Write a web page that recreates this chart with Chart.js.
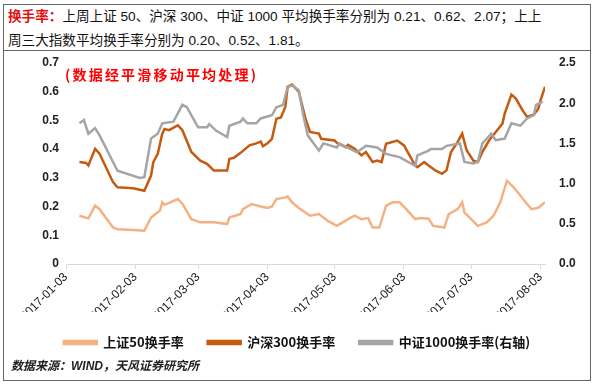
<!DOCTYPE html>
<html>
<head>
<meta charset="utf-8">
<script src="https://cdn.jsdelivr.net/npm/chart.js@4/dist/chart.umd.min.js"></script>
<style>
    body { margin: 0; background: #fff; font-family: "Liberation Sans", "Noto Sans CJK SC", sans-serif; }
    #wrap { position: relative; width: 600px; height: 386px; }
    #frame { position: absolute; left: 3px; top: 4px; width: 586px; height: 375px; border: 1px solid #666; }
    #sep { position: absolute; left: 3px; top: 50px; width: 588px; height: 0; border-top: 1px solid #666; }
    #head { position: absolute; left: 8px; top: 5px; font-size: 13.6px; line-height: 24px; color: #111; white-space: nowrap; }
    #head b { color: #e01010; }
    #note { position: absolute; left: 65px; top: 64px; font-size: 14px; letter-spacing: 2.2px; font-weight: bold; color: #ff0000; font-family: "Noto Sans CJK SC", sans-serif; }
    #src { position: absolute; left: 11px; top: 356px; font-size: 12px; font-weight: bold; font-style: italic; color: #222; }
    #box { position: absolute; left: 4px; top: 51px; width: 586px; height: 310px; }
</style>
</head>
<body>
<div id="wrap">
    <div id="frame"></div>
    <div id="sep"></div>
    <div id="head"><b>换手率：</b>上周上证 50、沪深 300、中证 1000 平均换手率分别为 0.21、0.62、2.07；上上<br>周三大指数平均换手率分别为 0.20、0.52、1.81。</div>
    <div id="box"><canvas id="turnoverChart"></canvas></div>
    <div id="note">(数据经平滑移动平均处理)</div>
    <div id="src">数据来源：WIND，天风证券研究所</div>
</div>
<script>
const startDate = '2017-01-03';
const tickLabels = ['2017-01-03', '2017-02-03', '2017-03-03', '2017-04-03', '2017-05-03', '2017-06-03', '2017-07-03', '2017-08-03'];
const seriesNames = ['上证50换手率', '沪深300换手率', '中证1000换手率(右轴)'];

// 上证50 (left axis)
const sz50Dates = ['2017-01-09', '2017-01-13', '2017-01-16', '2017-01-18', '2017-01-24', '2017-01-26', '2017-02-02', '2017-02-07',
    '2017-02-10', '2017-02-14', '2017-02-15', '2017-02-16', '2017-02-22', '2017-02-24', '2017-02-28', '2017-03-04', '2017-03-10',
    '2017-03-16', '2017-03-17', '2017-03-22', '2017-03-23', '2017-03-27', '2017-03-31', '2017-04-03', '2017-04-05', '2017-04-07',
    '2017-04-11', '2017-04-12', '2017-04-14', '2017-04-17', '2017-04-22', '2017-04-26', '2017-04-30', '2017-05-04', '2017-05-09',
    '2017-05-12', '2017-05-15', '2017-05-18', '2017-05-20', '2017-05-23', '2017-05-26', '2017-05-29', '2017-06-01', '2017-06-04',
    '2017-06-08', '2017-06-10', '2017-06-14', '2017-06-16', '2017-06-21', '2017-06-23', '2017-06-27', '2017-06-29', '2017-06-30',
    '2017-07-06', '2017-07-10', '2017-07-13', '2017-07-16', '2017-07-19', '2017-07-22', '2017-07-28', '2017-07-30', '2017-08-02', '2017-08-05'];
const sz50Values = [0.168, 0.159, 0.203, 0.191, 0.127, 0.121, 0.118, 0.116,
    0.162, 0.186, 0.215, 0.206, 0.226, 0.21, 0.156, 0.145, 0.145,
    0.139, 0.162, 0.174, 0.191, 0.209, 0.20, 0.195, 0.20, 0.226,
    0.232, 0.235, 0.215, 0.195, 0.168, 0.174, 0.15, 0.133, 0.156,
    0.168, 0.156, 0.16, 0.127, 0.127, 0.203, 0.215, 0.215, 0.191,
    0.156, 0.16, 0.158, 0.133, 0.127, 0.174, 0.191, 0.215, 0.18,
    0.133, 0.145, 0.168, 0.215, 0.29, 0.267, 0.209, 0.191, 0.196, 0.215];

// 沪深300 (left axis)
const hs300Dates = ['2017-01-09', '2017-01-12', '2017-01-13', '2017-01-16', '2017-01-18', '2017-01-24', '2017-01-26', '2017-02-02',
    '2017-02-07', '2017-02-10', '2017-02-11', '2017-02-13', '2017-02-15', '2017-02-16', '2017-02-18', '2017-02-22', '2017-02-24',
    '2017-02-28', '2017-03-04', '2017-03-07', '2017-03-10', '2017-03-14', '2017-03-16', '2017-03-17', '2017-03-19', '2017-03-22',
    '2017-03-24', '2017-03-26', '2017-03-29', '2017-03-31', '2017-04-01', '2017-04-03', '2017-04-05', '2017-04-07', '2017-04-09',
    '2017-04-11', '2017-04-12', '2017-04-14', '2017-04-17', '2017-04-20', '2017-04-22', '2017-04-26', '2017-04-27', '2017-05-03',
    '2017-05-04', '2017-05-08', '2017-05-09', '2017-05-12', '2017-05-15', '2017-05-17', '2017-05-20', '2017-05-22', '2017-05-24',
    '2017-05-26', '2017-05-31', '2017-06-03', '2017-06-08', '2017-06-09', '2017-06-12', '2017-06-14', '2017-06-17', '2017-06-20',
    '2017-06-22', '2017-06-24', '2017-06-27', '2017-06-29', '2017-07-01', '2017-07-04', '2017-07-06', '2017-07-08', '2017-07-11',
    '2017-07-14', '2017-07-17', '2017-07-18', '2017-07-21', '2017-07-23', '2017-07-26', '2017-07-28', '2017-07-31', '2017-08-02',
    '2017-08-03', '2017-08-05'];
const hs300Values = [0.355, 0.352, 0.343, 0.401, 0.384, 0.285, 0.267, 0.264,
    0.255, 0.308, 0.355, 0.384, 0.454, 0.47, 0.466, 0.483, 0.466,
    0.39, 0.36, 0.349, 0.326, 0.326, 0.326, 0.366, 0.37, 0.387,
    0.40, 0.413, 0.42, 0.426, 0.41, 0.42, 0.436, 0.506, 0.51,
    0.547, 0.617, 0.625, 0.60, 0.506, 0.46, 0.454, 0.436, 0.43,
    0.422, 0.407, 0.415, 0.401, 0.378, 0.39, 0.355, 0.36, 0.355,
    0.419, 0.43, 0.413, 0.343, 0.337, 0.355, 0.343, 0.326, 0.314,
    0.326, 0.39, 0.425, 0.454, 0.396, 0.36, 0.355, 0.39, 0.43,
    0.46, 0.489, 0.524, 0.59, 0.576, 0.535, 0.512, 0.52, 0.541,
    0.57, 0.617];

// 中证1000 (right axis)
const zz1000Dates = ['2017-01-09', '2017-01-11', '2017-01-13', '2017-01-16', '2017-01-18', '2017-01-26', '2017-02-05', '2017-02-07',
    '2017-02-10', '2017-02-13', '2017-02-15', '2017-02-20', '2017-02-24', '2017-02-26', '2017-03-03', '2017-03-07', '2017-03-08',
    '2017-03-11', '2017-03-16', '2017-03-17', '2017-03-22', '2017-03-23', '2017-03-25', '2017-03-29', '2017-03-31', '2017-04-05',
    '2017-04-07', '2017-04-10', '2017-04-12', '2017-04-14', '2017-04-17', '2017-04-19', '2017-04-21', '2017-04-26', '2017-04-28',
    '2017-05-04', '2017-05-05', '2017-05-13', '2017-05-17', '2017-05-22', '2017-05-26', '2017-06-01', '2017-06-08', '2017-06-09',
    '2017-06-14', '2017-06-15', '2017-06-20', '2017-06-22', '2017-06-28', '2017-06-30', '2017-07-04', '2017-07-06', '2017-07-08',
    '2017-07-12', '2017-07-14', '2017-07-18', '2017-07-21', '2017-07-25', '2017-07-28', '2017-07-31', '2017-08-01', '2017-08-04'];
const zz1000Values = [1.75, 1.79, 1.62, 1.69, 1.60, 1.16, 1.07, 1.08,
    1.56, 1.62, 1.75, 1.77, 1.98, 1.95, 1.70, 1.70, 1.74,
    1.66, 1.58, 1.72, 1.77, 1.81, 1.75, 1.75, 1.81, 1.85,
    1.95, 1.98, 2.20, 2.22, 2.16, 1.85, 1.60, 1.41, 1.50,
    1.45, 1.50, 1.39, 1.47, 1.45, 1.37, 1.33, 1.22, 1.35,
    1.41, 1.43, 1.43, 1.47, 1.50, 1.27, 1.25, 1.27, 1.50,
    1.62, 1.54, 1.56, 1.75, 1.72, 1.81, 1.85, 1.98, 2.02];

const leftTicks = [0, 0.1, 0.2, 0.3, 0.4, 0.5, 0.6, 0.7];
const rightTicks = [0, 0.5, 1.0, 1.5, 2.0, 2.5];

function dayOf(s) {
    return (Date.parse(s) - Date.parse(startDate)) / 86400000;
}

function toPoints(dates, values) {
    return dates.map((d, i) => ({ x: dayOf(d), y: values[i] }));
}

const tickDays = tickLabels.map(dayOf);
const lastDay = Math.max(dayOf(sz50Dates[sz50Dates.length - 1]), dayOf(hs300Dates[hs300Dates.length - 1]));

const axisFont = { family: '"Liberation Sans", Arial, sans-serif', size: 12, weight: 'bold' };

new Chart(document.getElementById('turnoverChart'), {
    type: 'line',
    data: {
        datasets: [{
            label: seriesNames[0],
            data: toPoints(sz50Dates, sz50Values),
            borderColor: '#f4b183',
            backgroundColor: '#f4b183',
            borderWidth: 2.5,
            pointRadius: 0,
            yAxisID: 'y',
            order: 2
        }, {
            label: seriesNames[1],
            data: toPoints(hs300Dates, hs300Values),
            borderColor: '#c55a11',
            backgroundColor: '#c55a11',
            borderWidth: 2.5,
            pointRadius: 0,
            yAxisID: 'y',
            order: 1
        }, {
            label: seriesNames[2],
            data: toPoints(zz1000Dates, zz1000Values),
            borderColor: '#a5a5a5',
            backgroundColor: '#a5a5a5',
            borderWidth: 2.5,
            pointRadius: 0,
            yAxisID: 'y1',
            order: 0
        }]
    },
    options: {
        responsive: true,
        maintainAspectRatio: false,
        animation: false,
        layout: { padding: { top: 12, left: 0, right: 0, bottom: 2 } },
        plugins: {
            legend: {
                position: 'bottom',
                labels: {
                    boxWidth: 33,
                    boxHeight: 3,
                    padding: 24,
                    color: '#111',
                    font: { family: '"Noto Sans CJK SC", sans-serif', size: 13, weight: 'bold' },
                    sort: (a, b) => a.datasetIndex - b.datasetIndex
                }
            },
            tooltip: { enabled: false }
        },
        scales: {
            x: {
                type: 'linear',
                min: 0,
                max: lastDay,
                afterBuildTicks: function(scale) {
                    scale.ticks = tickDays.map(v => ({ value: v }));
                },
                afterFit: function(scale) {
                    scale.height = 48;
                },
                grid: { drawOnChartArea: false, drawTicks: true, tickLength: 5, color: '#d9d9d9' },
                border: { color: '#d9d9d9' },
                ticks: {
                    autoSkip: false,
                    minRotation: 45,
                    maxRotation: 45,
                    padding: 1,
                    color: '#1a1a1a',
                    font: { family: '"Liberation Sans", Arial, sans-serif', size: 12 },
                    callback: function(value) {
                        const i = tickDays.indexOf(value);
                        return i >= 0 ? tickLabels[i] : '';
                    }
                }
            },
            y: {
                position: 'left',
                min: 0,
                max: 0.7,
                afterBuildTicks: function(scale) {
                    scale.ticks = leftTicks.map(v => ({ value: v }));
                },
                afterFit: function(scale) {
                    scale.width = 62;
                },
                // invisible tick marks give the gap between labels and plot
                grid: { drawOnChartArea: false, drawTicks: true, tickLength: 7, color: 'rgba(0,0,0,0)' },
                border: { display: false },
                ticks: {
                    padding: 0,
                    color: '#222',
                    font: axisFont,
                    callback: v => v === 0 ? '0' : v.toFixed(1)
                }
            },
            y1: {
                position: 'right',
                min: 0,
                max: 2.5,
                afterBuildTicks: function(scale) {
                    scale.ticks = rightTicks.map(v => ({ value: v }));
                },
                afterFit: function(scale) {
                    scale.width = 45;
                },
                grid: { drawOnChartArea: false, drawTicks: true, tickLength: 14, color: 'rgba(0,0,0,0)' },
                border: { display: false },
                ticks: {
                    padding: 0,
                    color: '#222',
                    font: axisFont,
                    callback: v => v.toFixed(1)
                }
            }
        }
    }
});
</script>
</body>
</html>
